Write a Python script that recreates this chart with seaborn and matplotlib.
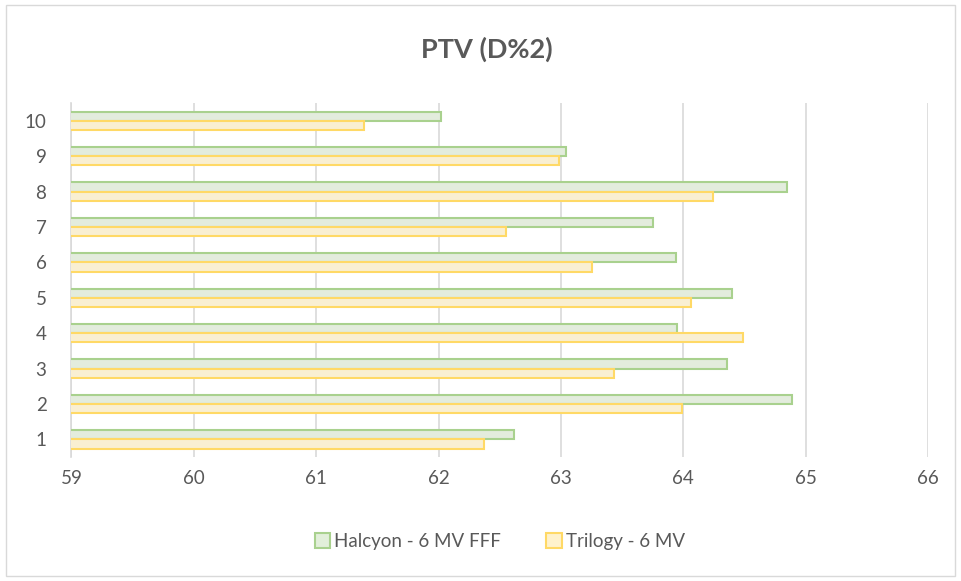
import matplotlib
matplotlib.use("Agg")
import matplotlib.pyplot as plt
from matplotlib.patches import Rectangle
import seaborn as sns
import pandas as pd

# data
patients = ["10", "9", "8", "7", "6", "5", "4", "3", "2", "1"]
halcyon = [62.02, 63.04, 64.85, 63.75, 63.94, 64.40, 63.95, 64.36, 64.89, 62.62]
trilogy = [61.39, 62.98, 64.24, 62.55, 63.25, 64.06, 64.49, 63.43, 63.99, 62.37]
series = ["Halcyon - 6 MV FFF", "Trilogy - 6 MV"]
x_ticks = [59, 60, 61, 62, 63, 64, 65, 66]

df = pd.DataFrame({
    "patient": patients * 2,
    "dose": halcyon + trilogy,
    "machine": [series[0]] * len(patients) + [series[1]] * len(patients),
})

sns.set_style("white")
plt.rcParams["font.family"] = ["Lato", "DejaVu Sans"]

fills = {series[0]: "#E2EFDA", series[1]: "#FFF2CC"}
edges = {series[0]: "#A9D18E", series[1]: "#FFD966"}
grey = "#595959"

fig = plt.figure(figsize=(9.61, 5.81), dpi=100)
ax = fig.add_axes([0.0744, 0.2134, 0.8913, 0.6093])

sns.barplot(data=df, x="dose", y="patient", hue="machine", order=patients,
            hue_order=series, palette=fills, orient="h", width=0.52,
            ax=ax, legend=False, zorder=3)

# outline each bar in its series colour
n = len(patients)
for i, bar in enumerate(ax.patches[:2 * n]):
    bar.set_edgecolor(edges[series[i // n]])
    bar.set_linewidth(1.5)

ax.set_xlim(59, 66)
ax.set_xticks(x_ticks)
ax.set_xlabel("")
ax.set_ylabel("")
ax.grid(axis="x", color="#D9D9D9", linewidth=1.2, zorder=0)
ax.grid(axis="y", visible=False)
for s in ["top", "right", "bottom"]:
    ax.spines[s].set_visible(False)
ax.spines["left"].set_color("#D9D9D9")
ax.spines["left"].set_linewidth(1.2)
ax.tick_params(axis="x", colors=grey, labelsize=13.5, length=5, width=1.2,
               color="#D9D9D9", pad=4)
ax.tick_params(axis="y", colors=grey, labelsize=13.5, length=0, pad=18)

fig.text(0.507, 0.915, "PTV (D%2)", ha="center", va="center", fontsize=19.5,
         fontweight="bold", color=grey)

handles = [Rectangle((0, 0), 1, 1, facecolor=fills[s], edgecolor=edges[s], linewidth=1.5)
           for s in series]
fig.legend(handles, series, loc="center", bbox_to_anchor=(0.52, 0.068), ncol=2,
           frameon=False, fontsize=13.5, labelcolor=grey, handlelength=0.85,
           handleheight=0.85, handletextpad=0.2, columnspacing=2.4)

# light chart border
fig.patches.append(Rectangle((0.006, 0.009), 0.988, 0.982, transform=fig.transFigure,
                             fill=False, edgecolor="#D9D9D9", linewidth=1))

fig.savefig("out.png", dpi=100)
